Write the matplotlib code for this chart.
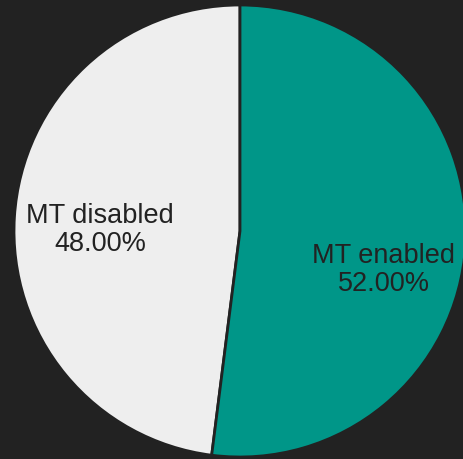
import matplotlib
matplotlib.use("Agg")
import matplotlib.pyplot as plt

labels = ["MT disabled", "MT enabled"]
shares = [48.0, 52.0]
colors = ["#EEEEEE", "#009688"]
# label anchor points in units of the pie radius
label_xy = [(-0.62, 0.01), (0.637, -0.168)]

W, H, DPI = 464, 460, 100
fig = plt.figure(figsize=(W / DPI, H / DPI), dpi=DPI, facecolor="#222222")
ax = fig.add_axes([0, 0, 1, 1])
ax.set_facecolor("#222222")

# pie centre and radius in pixels
cx, cy, R = 240, 232, 226
ax.set_xlim(-cx / R, (W - cx) / R)
ax.set_ylim(-(H - cy) / R, cy / R)
ax.axis("off")

ax.pie(shares, colors=colors, startangle=90, counterclock=True,
       radius=1.0, center=(0, 0), frame=False,
       wedgeprops=dict(edgecolor="#222222", linewidth=2.0))
ax.set_xlim(-cx / R, (W - cx) / R)
ax.set_ylim(-(H - cy) / R, cy / R)
ax.set_aspect("auto")

for lab, val, (x, y) in zip(labels, shares, label_xy):
    ax.text(x, y, f"{lab}\n{val:.2f}%", ha="center", va="center",
            fontsize=19.5, family="Liberation Sans", color="#222222",
            linespacing=1.1)

fig.savefig("out.png", dpi=DPI, facecolor="#222222")
